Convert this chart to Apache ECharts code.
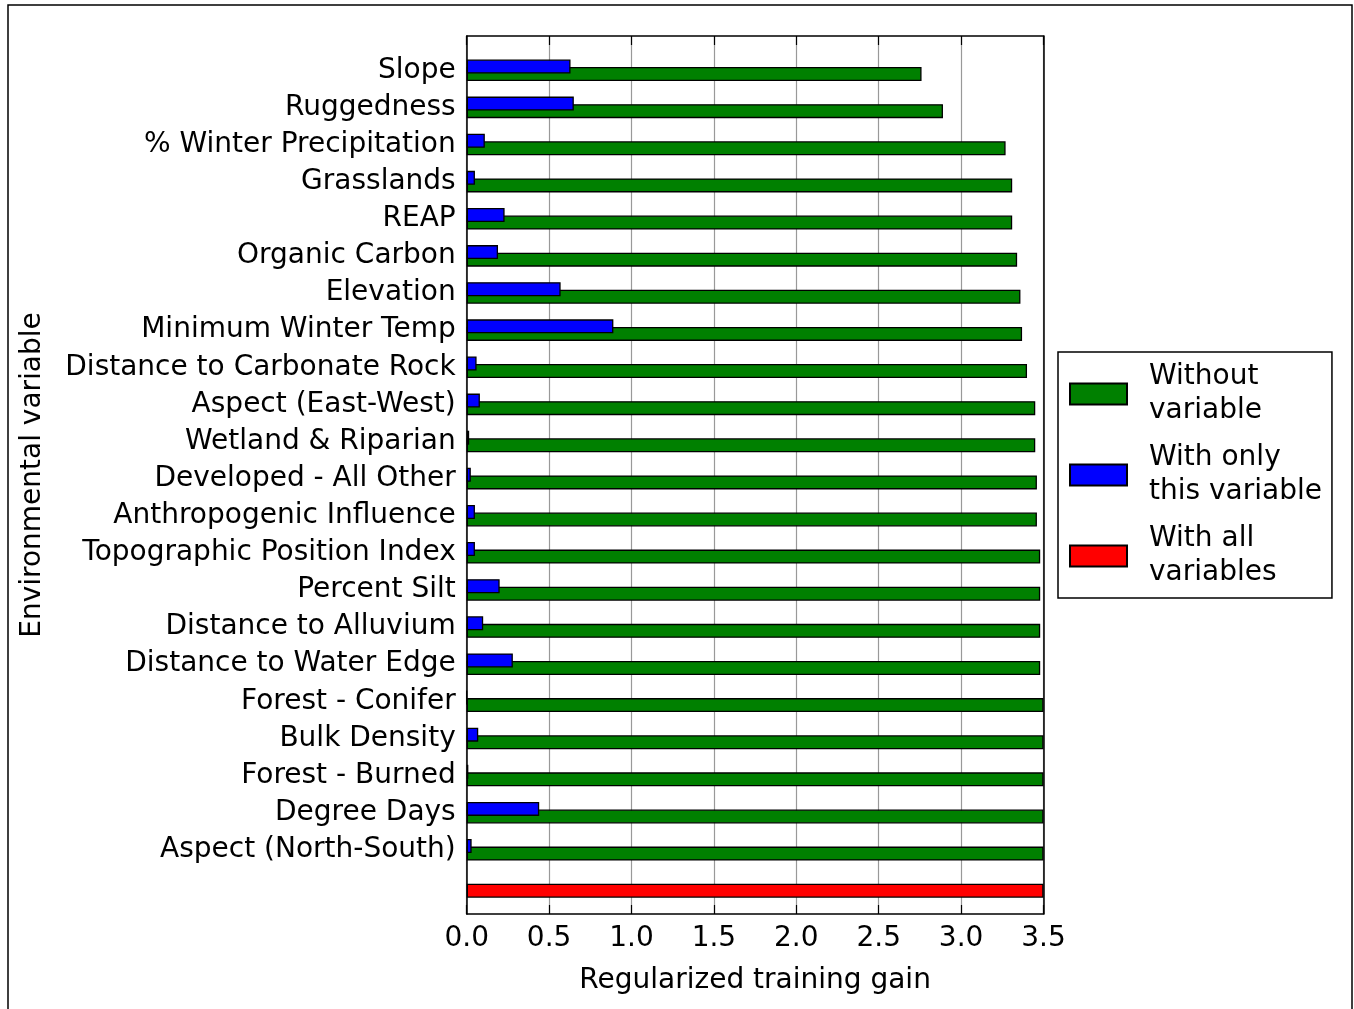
<!DOCTYPE html>
<html><head><meta charset="utf-8">
<script src="https://cdn.jsdelivr.net/npm/echarts@6/dist/echarts.min.js"></script>
<style>html,body{margin:0;padding:0;background:#fff}#c{width:1354px;height:1009px}</style>
</head><body><div id="c"></div>
<script>
const categories = ['Slope','Ruggedness','% Winter Precipitation','Grasslands','REAP','Organic Carbon','Elevation','Minimum Winter Temp','Distance to Carbonate Rock','Aspect (East-West)','Wetland & Riparian','Developed - All Other','Anthropogenic Influence','Topographic Position Index','Percent Silt','Distance to Alluvium','Distance to Water Edge','Forest - Conifer','Bulk Density','Forest - Burned','Degree Days','Aspect (North-South)',''];
const withoutVariable = [2.76,2.89,3.27,3.31,3.31,3.34,3.36,3.37,3.40,3.45,3.45,3.46,3.46,3.48,3.48,3.48,3.48,3.50,3.50,3.50,3.50,3.50,'-'];
const withOnlyVariable = [0.63,0.65,0.11,0.05,0.23,0.19,0.57,0.89,0.06,0.08,0.015,0.025,0.05,0.05,0.20,0.10,0.28,0,0.07,0.01,0.44,0.03,'-'];
const withAllVariables = ['-','-','-','-','-','-','-','-','-','-','-','-','-','-','-','-','-','-','-','-','-','-',3.50];
const seriesNames = ['Without variable','With only this variable','With all variables'];
const legendLabels = ['Without\nvariable','With only\nthis variable','With all\nvariables'];
const xMin = 0, xMax = 3.5, xStep = 0.5;

const FONT = 'DejaVu Sans';
const FS = 28;
const chart = echarts.init(document.getElementById('c'), null, {renderer:'canvas'});
const frameLine = {show:true, onZero:false, lineStyle:{color:'#000', width:1.5}};
const barStyle = (c) => ({color:c, borderColor:'#000', borderWidth:1.3});
chart.setOption({
  animation:false,
  backgroundColor:'#fff',
  textStyle:{fontFamily:FONT, color:'#000'},
  graphic:[{type:'rect', silent:true, z:-1, shape:{x:8,y:5,width:1344,height:1030}, style:{fill:'none', stroke:'#000', lineWidth:1.5}}],
  grid:[
    {left:466.7, right:310.5, top:36, bottom:95, outerBoundsMode:'none'},
    {left:466.7, right:310.5, top:51.7, bottom:103.5, outerBoundsMode:'none'}
  ],
  legend:{
    data:seriesNames, orient:'vertical', left:1058, top:352,
    icon:'rect', itemWidth:57, itemHeight:21, itemGap:13,
    padding:[8,10,8,11], borderColor:'#000', borderWidth:1.5,
    formatter:(n)=>legendLabels[seriesNames.indexOf(n)],
    textStyle:{fontSize:FS, fontFamily:FONT, color:'#000', lineHeight:34, padding:[0,0,0,17]}
  },
  xAxis:[
    {gridIndex:0, type:'value', min:xMin, max:xMax, interval:xStep, position:'bottom',
     axisLine:frameLine, axisTick:{show:true, inside:true, length:9, lineStyle:{color:'#000', width:1.2}},
     axisLabel:{fontSize:FS, fontFamily:FONT, color:'#000', margin:11, formatter:(v)=>v.toFixed(1)},
     splitLine:{show:true, lineStyle:{color:'#999', width:1.2}},
     name:'Regularized training gain', nameLocation:'middle', nameGap:53,
     nameTextStyle:{fontSize:FS, fontFamily:FONT, color:'#000'}},
    {gridIndex:0, type:'value', min:xMin, max:xMax, interval:xStep, position:'top',
     axisLine:frameLine, axisTick:{show:true, inside:true, length:9, lineStyle:{color:'#000', width:1.2}},
     axisLabel:{show:false}, splitLine:{show:false}},
    {gridIndex:1, type:'value', min:xMin, max:xMax, show:false}
  ],
  yAxis:[
    {gridIndex:0, type:'value', min:0, max:1, position:'left', axisLine:frameLine,
     axisTick:{show:false}, axisLabel:{show:false}, splitLine:{show:false},
     name:'Environmental variable', nameLocation:'middle', nameGap:420,
     nameTextStyle:{fontSize:FS, fontFamily:FONT, color:'#000'}},
    {gridIndex:0, type:'value', min:0, max:1, position:'right', axisLine:frameLine,
     axisTick:{show:false}, axisLabel:{show:false}, splitLine:{show:false}},
    {gridIndex:1, type:'category', inverse:true, data:categories,
     axisLine:{show:false}, axisTick:{show:false}, splitLine:{show:false},
     axisLabel:{fontSize:FS, fontFamily:FONT, color:'#000', margin:11, interval:0, padding:[10,0,0,0]}}
  ],
  series:[
    {name:seriesNames[1], type:'bar', xAxisIndex:2, yAxisIndex:2, data:withOnlyVariable,
     barWidth:14, barGap:'-46%', z:3, itemStyle:barStyle('#0000ff')},
    {name:seriesNames[0], type:'bar', stack:'g', xAxisIndex:2, yAxisIndex:2, data:withoutVariable,
     barWidth:14, barGap:'-46%', z:2, itemStyle:barStyle('#008000')},
    {name:seriesNames[2], type:'bar', stack:'g', xAxisIndex:2, yAxisIndex:2, data:withAllVariables,
     barWidth:14, barGap:'-46%', z:2, itemStyle:barStyle('#ff0000')}
  ]
});
</script></body></html>
